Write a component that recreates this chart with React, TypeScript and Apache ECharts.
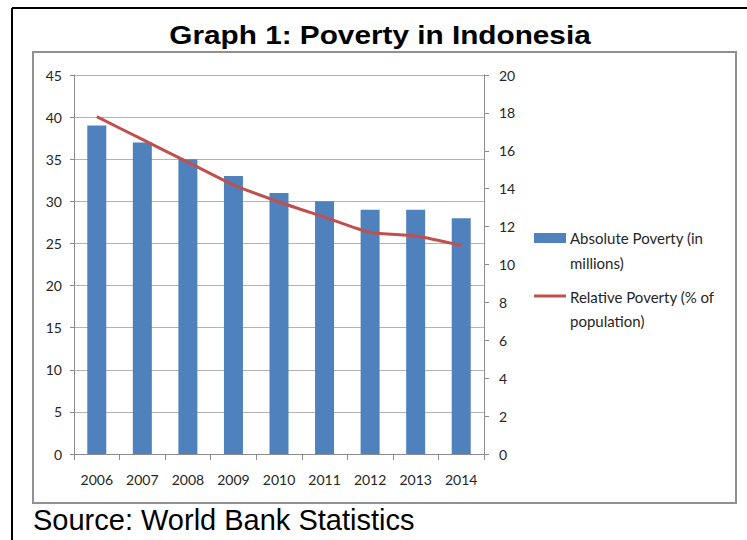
import React, { useEffect, useRef } from "react";
import * as echarts from "echarts";

const years = ["2006", "2007", "2008", "2009", "2010", "2011", "2012", "2013", "2014"];
const absolutePoverty = [39, 37, 35, 33, 31, 30, 29, 29, 28];
const relativePoverty = [17.8, 16.6, 15.4, 14.2, 13.3, 12.5, 11.7, 11.5, 11.0];
const leftAxis = { min: 0, max: 45, interval: 5 };
const rightAxis = { min: 0, max: 20, interval: 2 };
const titleText = "Graph 1: Poverty in Indonesia";
const sourceText = "Source: World Bank Statistics";
const absName = "Absolute Poverty (in millions)";
const relName = "Relative Poverty (% of population)";
const absLegendLines = ["Absolute Poverty (in", "millions)"];
const relLegendLines = ["Relative Poverty (% of", "population)"];

const BAR = "#4F81BD";
const LINE = "#C0504D";
const AXIS = "#8c8c8c";
const GRID = "#b3b3b3";
const LABEL = "#262626";
const FONT = "Lato";

export default function App() {
  const ref = useRef<HTMLDivElement>(null);
  useEffect(() => {
    if (!ref.current) return;
    const chart = echarts.init(ref.current, null, { renderer: "svg" });
    const legendText = { fontFamily: FONT, fontSize: 15, fill: LABEL };
    chart.setOption({
      animation: false,
      backgroundColor: "#ffffff",
      grid: { left: 74, right: 263, top: 75, bottom: 86, containLabel: false },
      xAxis: {
        type: "category",
        data: years,
        boundaryGap: true,
        axisLine: { show: true, lineStyle: { color: AXIS, width: 1 } },
        axisTick: { show: true, length: 6, lineStyle: { color: AXIS } },
        axisLabel: { color: LABEL, fontFamily: FONT, fontSize: 14, margin: 18 },
      },
      yAxis: [
        {
          type: "value",
          position: "left",
          min: leftAxis.min,
          max: leftAxis.max,
          interval: leftAxis.interval,
          axisLine: { show: true, lineStyle: { color: AXIS } },
          axisTick: { show: true, length: 4, lineStyle: { color: AXIS } },
          splitLine: { show: true, lineStyle: { color: GRID, width: 1 } },
          axisLabel: { color: LABEL, fontFamily: FONT, fontSize: 14, margin: 12 },
        },
        {
          type: "value",
          position: "right",
          min: rightAxis.min,
          max: rightAxis.max,
          interval: rightAxis.interval,
          axisLine: { show: true, lineStyle: { color: AXIS } },
          axisTick: { show: true, length: 5, lineStyle: { color: AXIS } },
          splitLine: { show: false },
          axisLabel: { color: LABEL, fontFamily: FONT, fontSize: 14, margin: 15 },
        },
      ],
      series: [
        {
          name: absName,
          type: "bar",
          data: absolutePoverty,
          yAxisIndex: 0,
          barWidth: 19,
          itemStyle: { color: BAR },
        },
        {
          name: relName,
          type: "line",
          data: relativePoverty,
          yAxisIndex: 1,
          smooth: 0.25,
          showSymbol: false,
          symbol: "none",
          lineStyle: { color: LINE, width: 3 },
          itemStyle: { color: LINE },
        },
      ],
      graphic: [
        { type: "line", shape: { x1: 12, y1: 8, x2: 747, y2: 8 }, style: { stroke: "#000", lineWidth: 2 } },
        { type: "line", shape: { x1: 12, y1: 8, x2: 12, y2: 540 }, style: { stroke: "#000", lineWidth: 2 } },
        {
          type: "rect",
          shape: { x: 33, y: 52, width: 703, height: 451 },
          style: { fill: "none", stroke: "#909090", lineWidth: 2 },
          z: -10,
        },
        {
          type: "text",
          x: 380,
          y: 35,
          scaleX: 1.19,
          style: {
            text: titleText,
            fontFamily: "Liberation Sans",
            fontWeight: "bold",
            fontSize: 25,
            fill: "#000",
            textAlign: "center",
            textVerticalAlign: "middle",
          },
        },
        {
          type: "text",
          x: 33,
          y: 520,
          style: {
            text: sourceText,
            fontFamily: "Liberation Sans",
            fontSize: 29,
            fill: "#000",
            textAlign: "left",
            textVerticalAlign: "middle",
          },
        },
        { type: "rect", shape: { x: 534, y: 233, width: 32, height: 10 }, style: { fill: BAR } },
        {
          type: "text",
          x: 570,
          y: 238,
          style: { ...legendText, text: absLegendLines[0], textVerticalAlign: "middle" },
        },
        {
          type: "text",
          x: 570,
          y: 263,
          style: { ...legendText, text: absLegendLines[1], textVerticalAlign: "middle" },
        },
        { type: "line", shape: { x1: 534, y1: 296, x2: 566, y2: 296 }, style: { stroke: LINE, lineWidth: 3 } },
        {
          type: "text",
          x: 570,
          y: 297,
          style: { ...legendText, text: relLegendLines[0], textVerticalAlign: "middle" },
        },
        {
          type: "text",
          x: 570,
          y: 321,
          style: { ...legendText, text: relLegendLines[1], textVerticalAlign: "middle" },
        },
      ],
    });
    return () => chart.dispose();
  }, []);
  return (
    <div
      ref={ref}
      style={{ position: "fixed", left: 0, top: 0, width: 747, height: 540, background: "#fff" }}
    />
  );
}
